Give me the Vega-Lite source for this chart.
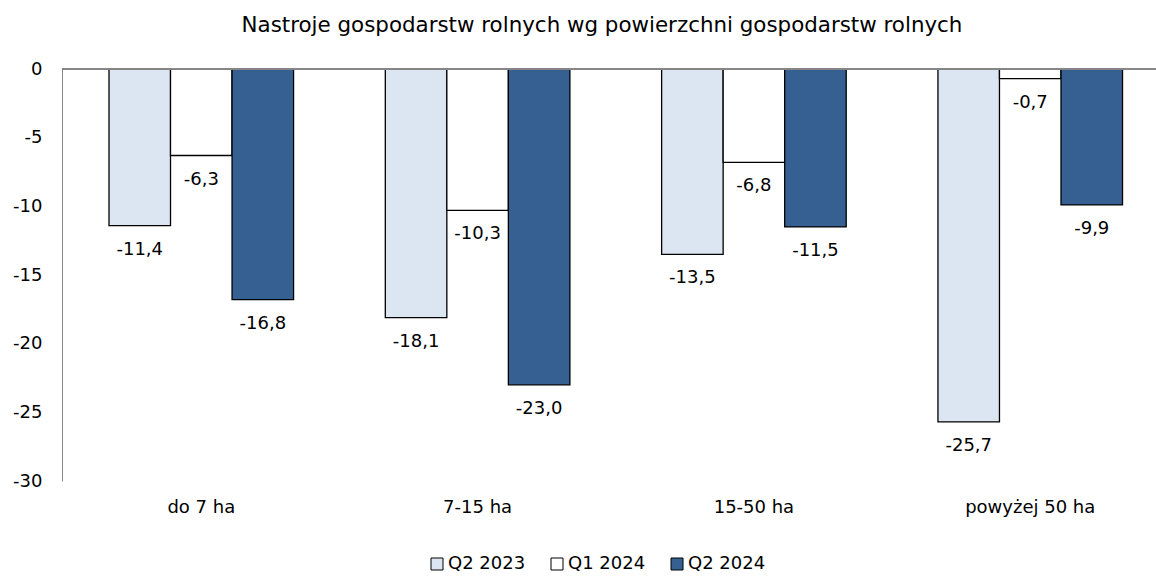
{
  "$schema": "https://vega.github.io/schema/vega-lite/v6.json",
  "autosize": {"type": "none"},
  "width": 1094,
  "height": 412,
  "padding": {"left": 62, "top": 69, "right": 0, "bottom": 96},
  "background": "white",
  "config": {
    "locale": {"number": {"decimal": ",", "thousands": " ", "grouping": [3], "currency": ["", " zł"], "minus": "-"}},
    "font": "DejaVu Sans",
    "view": {"stroke": null}
  },
  "title": {
    "text": "Nastroje gospodarstw rolnych wg powierzchni gospodarstw rolnych",
    "anchor": "middle",
    "fontSize": 21.4,
    "fontWeight": "normal",
    "font": "DejaVu Sans",
    "color": "black",
    "offset": 24,
    "dx": -7
  },
  "data": {
    "values": [
      {"cat": "do 7 ha", "series": "Q2 2023", "value": -11.4},
      {"cat": "do 7 ha", "series": "Q1 2024", "value": -6.3},
      {"cat": "do 7 ha", "series": "Q2 2024", "value": -16.8},
      {"cat": "7-15 ha", "series": "Q2 2023", "value": -18.1},
      {"cat": "7-15 ha", "series": "Q1 2024", "value": -10.3},
      {"cat": "7-15 ha", "series": "Q2 2024", "value": -23.0},
      {"cat": "15-50 ha", "series": "Q2 2023", "value": -13.5},
      {"cat": "15-50 ha", "series": "Q1 2024", "value": -6.8},
      {"cat": "15-50 ha", "series": "Q2 2024", "value": -11.5},
      {"cat": "powyżej 50 ha", "series": "Q2 2023", "value": -25.7},
      {"cat": "powyżej 50 ha", "series": "Q1 2024", "value": -0.7},
      {"cat": "powyżej 50 ha", "series": "Q2 2024", "value": -9.9}
    ]
  },
  "encoding": {
    "x": {
      "field": "cat", "type": "nominal",
      "sort": ["do 7 ha", "7-15 ha", "15-50 ha", "powyżej 50 ha"],
      "scale": {"paddingInner": 0.332, "paddingOuter": 0.1456, "align": 0.584},
      "axis": {"title": null, "domain": false, "ticks": false, "labelAngle": 0, "labelPadding": 17, "labelFontSize": 18, "labelColor": "black", "labelFont": "DejaVu Sans"}
    },
    "xOffset": {
      "field": "series", "type": "nominal",
      "sort": ["Q2 2023", "Q1 2024", "Q2 2024"],
      "scale": {"paddingInner": 0, "paddingOuter": 0}
    },
    "y": {
      "field": "value", "type": "quantitative",
      "scale": {"domain": [-30, 0], "nice": false, "zero": false},
      "axis": {"title": null, "values": [0, -5, -10, -15, -20, -25, -30], "format": "d", "grid": false, "ticks": false, "domain": true, "domainColor": "#868686", "domainWidth": 1, "labelPadding": 20, "labelFontSize": 18, "labelColor": "black", "labelFont": "DejaVu Sans"}
    }
  },
  "layer": [
    {
      "mark": {"type": "bar", "stroke": "black", "strokeWidth": 1.3},
      "encoding": {
        "fill": {
          "field": "series", "type": "nominal",
          "sort": ["Q2 2023", "Q1 2024", "Q2 2024"],
          "scale": {"domain": ["Q2 2023", "Q1 2024", "Q2 2024"], "range": ["#DCE6F2", "#FFFFFF", "#376092"]},
          "legend": {
            "title": null, "orient": "none", "direction": "horizontal",
            "legendX": 366, "legendY": 486, "padding": 0,
            "symbolType": "square", "symbolSize": 144, "symbolStrokeColor": "black", "symbolStrokeWidth": 1,
            "labelFontSize": 18, "labelColor": "black", "labelFont": "DejaVu Sans",
            "columnPadding": 22, "labelOffset": 2
          }
        }
      }
    },
    {
      "mark": {"type": "text", "baseline": "middle", "align": "center", "dy": 24, "fontSize": 18, "color": "black"},
      "encoding": {
        "text": {"field": "value", "type": "quantitative", "format": ".1f"}
      }
    },
    {
      "mark": {"type": "rule", "color": "#868686", "strokeWidth": 1},
      "encoding": {
        "y": {"datum": 0},
        "x": null,
        "xOffset": null
      }
    }
  ]
}
